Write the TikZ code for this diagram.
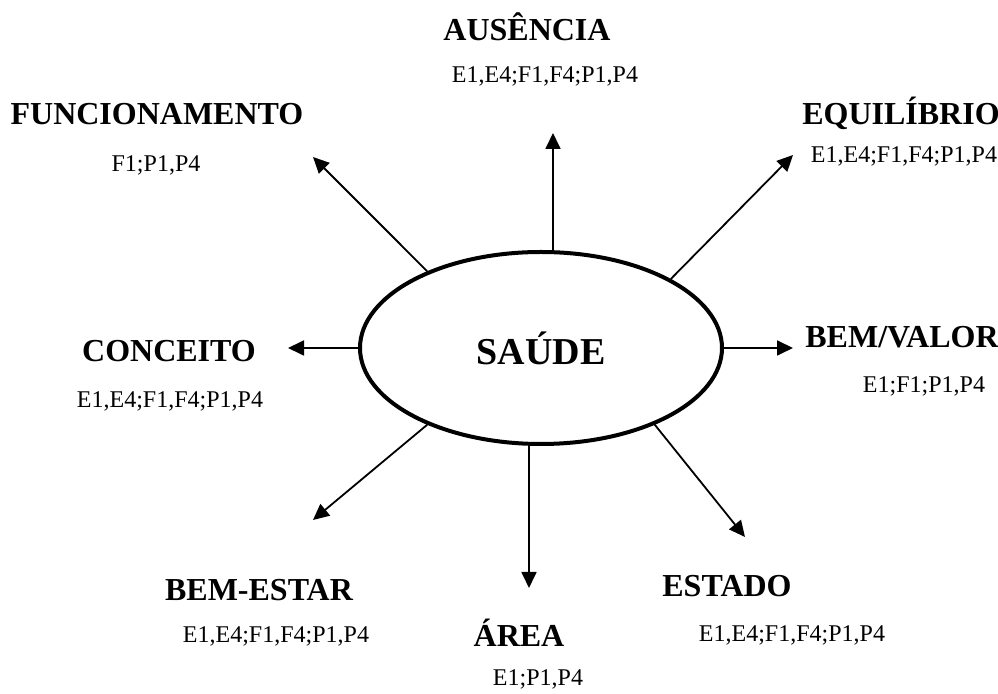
\documentclass[tikz,border=0pt]{standalone}
\usepackage{fontspec}
\setmainfont{Liberation Serif}
\usetikzlibrary{arrows.meta,shapes.geometric}
\begin{document}
\begin{tikzpicture}[x=0.5pt,y=-0.5pt,
  ttl/.style={font=\bfseries\fontsize{16}{19}\selectfont,inner sep=0pt,anchor=base},
  sub/.style={font=\fontsize{12}{14}\selectfont,inner sep=0pt,anchor=base},
  arr/.style={line width=0.9pt,-{Triangle[length=8pt,width=7.5pt]}},
  hub/.style={ellipse,draw,line width=2pt,minimum width=181pt,minimum height=96pt,inner sep=0pt,font=\bfseries\fontsize{19}{22}\selectfont}]
\useasboundingbox (0,0) rectangle (998,694);
\node[hub] (s) at (541,348) {SAÚDE};
% titles
\node[ttl] (aus) at (527,41) {AUSÊNCIA};
\node[sub] (aus2) at (545,83) {E1,E4;F1,F4;P1,P4};
\node[ttl] (fun) at (157,125) {FUNCIONAMENTO};
\node[sub] (fun2) at (156,172) {F1;P1,P4};
\node[ttl] (equ) at (901,125) {EQUILÍBRIO};
\node[sub] (equ2) at (904,163) {E1,E4;F1,F4;P1,P4};
\node[ttl] (con) at (169,362) {CONCEITO};
\node[sub] (con2) at (170,408) {E1,E4;F1,F4;P1,P4};
\node[ttl] (bem) at (902,348) {BEM/VALOR};
\node[sub] (bem2) at (924,393) {E1;F1;P1,P4};
\node[ttl] (est) at (727,597) {ESTADO};
\node[sub] (est2) at (792,642) {E1,E4;F1,F4;P1,P4};
\node[ttl] (bes) at (259,601) {BEM-ESTAR};
\node[sub] (bes2) at (276,643) {E1,E4;F1,F4;P1,P4};
\node[ttl] (are) at (519,647) {ÁREA};
\node[sub] (are2) at (538,686) {E1;P1,P4};
% arrow tips
\coordinate (tAus) at (553,133);
\coordinate (tFun) at (313,157);
\coordinate (tEqu) at (793,155);
\coordinate (tCon) at (288,348);
\coordinate (tBem) at (793,348);
\coordinate (tEst) at (745,537);
\coordinate (tBes) at (313,520);
\coordinate (tAre) at (529,588);
% arrows
\draw[arr] (s.83) -- (s.83 |- tAus);
\draw[arr] (s.146) -- (tFun);
\draw[arr] (s.28) -- (tEqu);
\draw[arr] (s.west) -- (tCon);
\draw[arr] (s.east) -- (tBem);
\draw[arr] (s.326) -- (tEst);
\draw[arr] (s.214) -- (tBes);
\draw[arr] (s.263) -- (s.263 |- tAre);
\end{tikzpicture}
\end{document}
